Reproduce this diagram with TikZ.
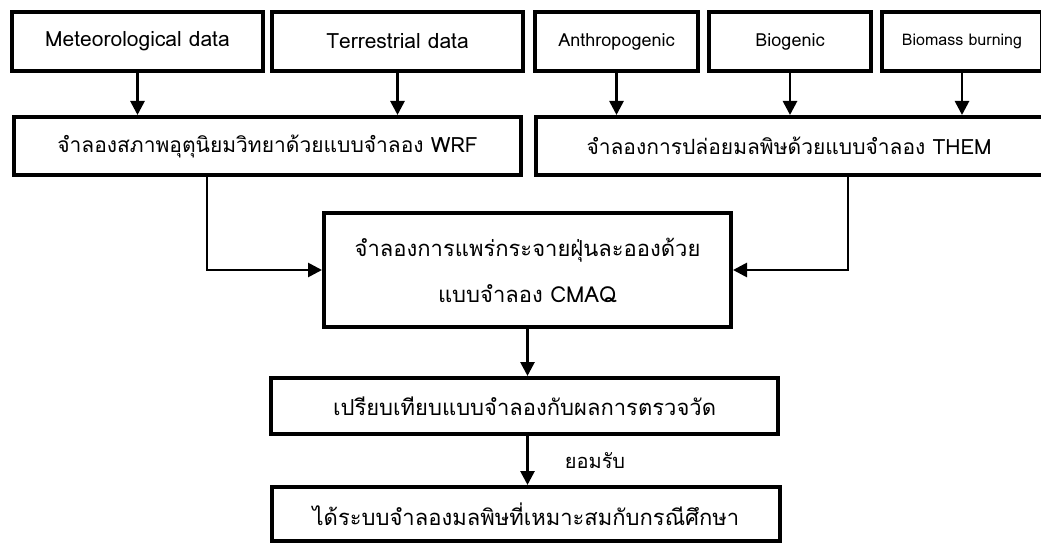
\documentclass[tikz,border=0pt]{standalone}
\usepackage{fontspec}
\setmainfont[Script=Thai]{Loma}
\usetikzlibrary{arrows.meta}
\tikzset{every picture/.style={line width=0.75pt}}

\begin{document}
\begin{tikzpicture}[x=1pt,y=1pt,yscale=-1,xscale=1,
	box/.style={draw, line width=4pt, inner sep=0pt, font=\fontsize{21}{25}\selectfont},
	link/.style={line width=2.7pt, -{Triangle[length=14pt,width=14pt]}}]
	\clip (0,0) rectangle (1041,545);

	% Input boxes
	\node[box, minimum width=251, minimum height=59] (meteo) at (137.5,41.5) {Meteorological data};
	\node[box, minimum width=251, minimum height=59] (terr) at (397.5,41.5) {Terrestrial data};
	\node[box, minimum width=163, minimum height=59, font=\fontsize{18}{21}\selectfont] (anthro) at (616.5,41.5) {Anthropogenic};
	\node[box, minimum width=162, minimum height=59, font=\fontsize{18}{21}\selectfont] (bio) at (790,41.5) {Biogenic};
	\node[box, minimum width=160, minimum height=59, font=\fontsize{16}{19}\selectfont] (biomass) at (962,41.5) {Biomass burning};

	% Model boxes
	\node[box, minimum width=507, minimum height=58] (wrf) at (267.5,146) {จำลองสภาพอุตุนิยมวิทยาด้วยแบบจำลอง WRF};
	\node[box, minimum width=507, minimum height=58] (them) at (789,146) {จำลองการปล่อยมลพิษด้วยแบบจำลอง THEM};
	\node[box, minimum width=407, minimum height=113, align=center, font=\fontsize{22}{26}\selectfont] (cmaq) at (527.5,270) {จำลองการแพร่กระจายฝุ่นละอองด้วย\\[20pt]แบบจำลอง CMAQ};
	\node[box, minimum width=507, minimum height=56, font=\fontsize{22}{26}\selectfont] (compare) at (524.5,406) {เปรียบเทียบแบบจำลองกับผลการตรวจวัด};
	\node[box, minimum width=508, minimum height=54, font=\fontsize{22}{26}\selectfont] (final) at (526,514) {ได้ระบบจำลองมลพิษที่เหมาะสมกับกรณีศึกษา};

	% Text Node
	\node[font=\fontsize{20}{24}\selectfont] (accept) at (595,461) {ยอมรับ};

	% Connectors
	\draw[link] (meteo.south) -- (meteo.south |- wrf.north);
	\draw[link] (terr.south) -- (terr.south |- wrf.north);
	\draw[link] (anthro.south) -- (anthro.south |- them.north);
	\draw[link] (bio.south) -- (bio.south |- them.north);
	\draw[link] (biomass.south) -- (biomass.south |- them.north);

	\coordinate (wrfdrop) at (207,0);
	\coordinate (themdrop) at (848,0);
	\draw[link] (wrf.south -| wrfdrop) |- (cmaq.west);
	\draw[link] (them.south -| themdrop) |- (cmaq.east);

	\draw[link] (cmaq.south) -- (cmaq.south |- compare.north);
	\draw[link] (compare.south -| cmaq.south) -- (cmaq.south |- final.north);

\end{tikzpicture}
\end{document}
